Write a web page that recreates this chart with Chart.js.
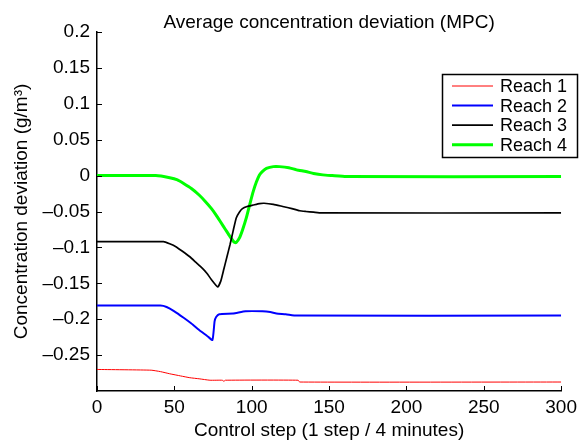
<!DOCTYPE html>
<html>
<head>
<meta charset="utf-8">
<script src="https://cdn.jsdelivr.net/npm/chart.js@4.4.1/dist/chart.umd.min.js"></script>
<style>
    body { margin: 0; background: #fff; }
    canvas { display: block; }
</style>
</head>
<body>
<canvas id="grafico" width="582" height="440"></canvas>
<script>
// dados (passo de controle x desvio)
const reach1Steps = [0, 35, 41, 47, 54, 60, 66, 73, 81, 82, 83, 130, 131, 300];
const reach1Values = [-0.270, -0.271, -0.273, -0.276, -0.279, -0.2815, -0.283, -0.285, -0.285, -0.2865, -0.285, -0.285, -0.2875, -0.2875];

const reach2Steps = [0, 41, 45, 50, 56, 61, 66, 71, 74.6, 76, 77, 79, 88, 96, 107, 112, 116, 122, 129, 300];
const reach2Values = [-0.181, -0.181, -0.183, -0.189, -0.198, -0.206, -0.215, -0.223, -0.229, -0.203, -0.197, -0.193, -0.192, -0.189, -0.189, -0.190, -0.192, -0.193, -0.195, -0.195];

const reach3Steps = [0, 43, 47, 51, 55, 60, 64, 68, 71, 74, 78, 80, 82, 84, 86, 88, 90, 92, 94, 97, 101, 105, 108, 114, 120, 126, 131, 135, 140, 145, 300];
const reach3Values = [-0.092, -0.092, -0.095, -0.099, -0.105, -0.113, -0.121, -0.129, -0.136, -0.145, -0.155, -0.147, -0.130, -0.113, -0.096, -0.077, -0.059, -0.051, -0.046, -0.043, -0.041, -0.039, -0.0385, -0.040, -0.043, -0.046, -0.049, -0.050, -0.051, -0.052, -0.052];

const reach4Steps = [0, 38, 47, 52, 56, 61, 66, 70, 74, 77, 80, 83, 86, 88, 89, 90, 92, 94, 96.5, 99, 101, 103, 105, 107, 109.5, 114, 118, 124, 129, 135, 140, 146, 152, 161, 300];
const reach4Values = [0, 0, -0.003, -0.006, -0.011, -0.018, -0.027, -0.036, -0.046, -0.055, -0.065, -0.075, -0.085, -0.091, -0.093, -0.093, -0.087, -0.076, -0.059, -0.038, -0.022, -0.009, 0.001, 0.006, 0.010, 0.0125, 0.0125, 0.011, 0.008, 0.0056, 0.003, 0.001, 0.0, -0.0014, -0.0014];

const seriesNames = ["Reach 1", "Reach 2", "Reach 3", "Reach 4"];
const yTicks = [0.2, 0.15, 0.1, 0.05, 0, -0.05, -0.1, -0.15, -0.2, -0.25];
const xTicks = [0, 50, 100, 150, 200, 250, 300];

const tituloGrafico = "Average concentration deviation (MPC)";
const tituloX = "Control step (1 step / 4 minutes)";
const tituloY = "Concentration deviation (g/m\u00b3)";

const fonte = "'Liberation Sans', Arial, Helvetica, sans-serif";

function montarPontos(steps, values) {
    let pontos = [];
    for (let i = 0; i < steps.length; i++) {
        pontos.push({ x: steps[i], y: values[i] });
    }
    return pontos;
}

function formatarNumero(v) {
    let r = Math.round(v * 100) / 100;
    if (r < 0) return "\u2013" + String(-r);
    return String(r);
}

// titulo do grafico centralizado na area de plotagem
const pluginTitulo = {
    id: "tituloMatlab",
    afterDraw(chart) {
        const ctx = chart.ctx;
        const area = chart.chartArea;
        ctx.save();
        ctx.fillStyle = "#000";
        ctx.font = "19px " + fonte;
        ctx.textAlign = "center";
        ctx.textBaseline = "alphabetic";
        ctx.fillText(tituloGrafico, (area.left + area.right) / 2, 28);
        ctx.restore();
    }
};

// marcas dos ticks para dentro (estilo matlab)
const pluginTicks = {
    id: "ticksDentro",
    afterDraw(chart) {
        const ctx = chart.ctx;
        const area = chart.chartArea;
        const x = chart.scales.x;
        const y = chart.scales.y;
        ctx.save();
        ctx.strokeStyle = "#000";
        ctx.lineWidth = 1;
        ctx.beginPath();
        x.ticks.forEach((t) => {
            const px = Math.round(x.getPixelForValue(t.value)) + 0.5;
            ctx.moveTo(px, area.bottom);
            ctx.lineTo(px, area.bottom - 5);
        });
        y.ticks.forEach((t) => {
            const py = Math.round(y.getPixelForValue(t.value)) + 0.5;
            ctx.moveTo(area.left, py);
            ctx.lineTo(area.left + 5, py);
        });
        ctx.stroke();
        ctx.restore();
    }
};

// legenda desenhada na posição do original
const pluginLegenda = {
    id: "legendaMatlab",
    afterDraw(chart) {
        const ctx = chart.ctx;
        const caixa = { x: 442.5, y: 74.5, w: 135, h: 83 };
        ctx.save();
        ctx.fillStyle = "#fff";
        ctx.fillRect(caixa.x, caixa.y, caixa.w, caixa.h);
        ctx.strokeStyle = "#000";
        ctx.lineWidth = 1.5;
        ctx.strokeRect(caixa.x, caixa.y, caixa.w, caixa.h);
        ctx.font = "18px " + fonte;
        ctx.textAlign = "left";
        ctx.textBaseline = "middle";
        chart.data.datasets.forEach((ds, i) => {
            const yy = 86 + i * 19.6;
            ctx.strokeStyle = ds.borderColor;
            ctx.lineWidth = ds.borderWidth;
            ctx.beginPath();
            ctx.moveTo(452, yy);
            ctx.lineTo(493, yy);
            ctx.stroke();
            ctx.fillStyle = "#000";
            ctx.fillText(ds.label, 500, yy + 1);
        });
        ctx.restore();
    }
};

const cores = ["#ff0000", "#0000ff", "#000000", "#00ff00"];
const larguras = [1, 2, 1.7, 3];
const todosSteps = [reach1Steps, reach2Steps, reach3Steps, reach4Steps];
const todosValores = [reach1Values, reach2Values, reach3Values, reach4Values];

let datasets = [];
for (let i = 0; i < seriesNames.length; i++) {
    datasets.push({
        label: seriesNames[i],
        data: montarPontos(todosSteps[i], todosValores[i]),
        borderColor: cores[i],
        backgroundColor: cores[i],
        borderWidth: larguras[i],
        pointRadius: 0,
        tension: 0.15,
        fill: false
    });
}

const config = {
    type: "line",
    data: { datasets: datasets },
    options: {
        responsive: false,
        animation: false,
        layout: { padding: { top: 32, right: 19, left: 0, bottom: 0 } },
        plugins: {
            legend: { display: false },
            title: { display: false },
            tooltip: { enabled: false }
        },
        scales: {
            x: {
                type: "linear",
                min: 0,
                max: 300,
                grid: { display: false, drawTicks: false },
                border: { display: true, color: "#000", width: 1.5 },
                afterBuildTicks: (s) => { s.ticks = xTicks.map((v) => ({ value: v })); },
                ticks: {
                    padding: 5,
                    color: "#000",
                    maxRotation: 0,
                    font: { family: fonte, size: 19 },
                    callback: (v) => formatarNumero(v)
                },
                title: {
                    display: true,
                    text: tituloX,
                    color: "#000",
                    font: { family: fonte, size: 19, lineHeight: 1 },
                    padding: { top: 0, bottom: 0 }
                },
                afterFit: (s) => { s.height = 49; }
            },
            y: {
                type: "linear",
                min: -0.3,
                max: 0.2,
                grid: { display: false, drawTicks: false },
                border: { display: true, color: "#000", width: 1.5 },
                afterBuildTicks: (s) => { s.ticks = yTicks.map((v) => ({ value: v })); },
                ticks: {
                    padding: 7,
                    color: "#000",
                    font: { family: fonte, size: 19 },
                    callback: (v) => formatarNumero(v)
                },
                title: {
                    display: true,
                    text: tituloY,
                    color: "#000",
                    font: { family: fonte, size: 19, lineHeight: 1.2 },
                    padding: { top: 10, bottom: 0 }
                },
                afterFit: (s) => { s.width = 97; }
            }
        }
    },
    plugins: [pluginTitulo, pluginTicks, pluginLegenda]
};

let myChart = new Chart(document.getElementById("grafico"), config);
</script>
</body>
</html>
